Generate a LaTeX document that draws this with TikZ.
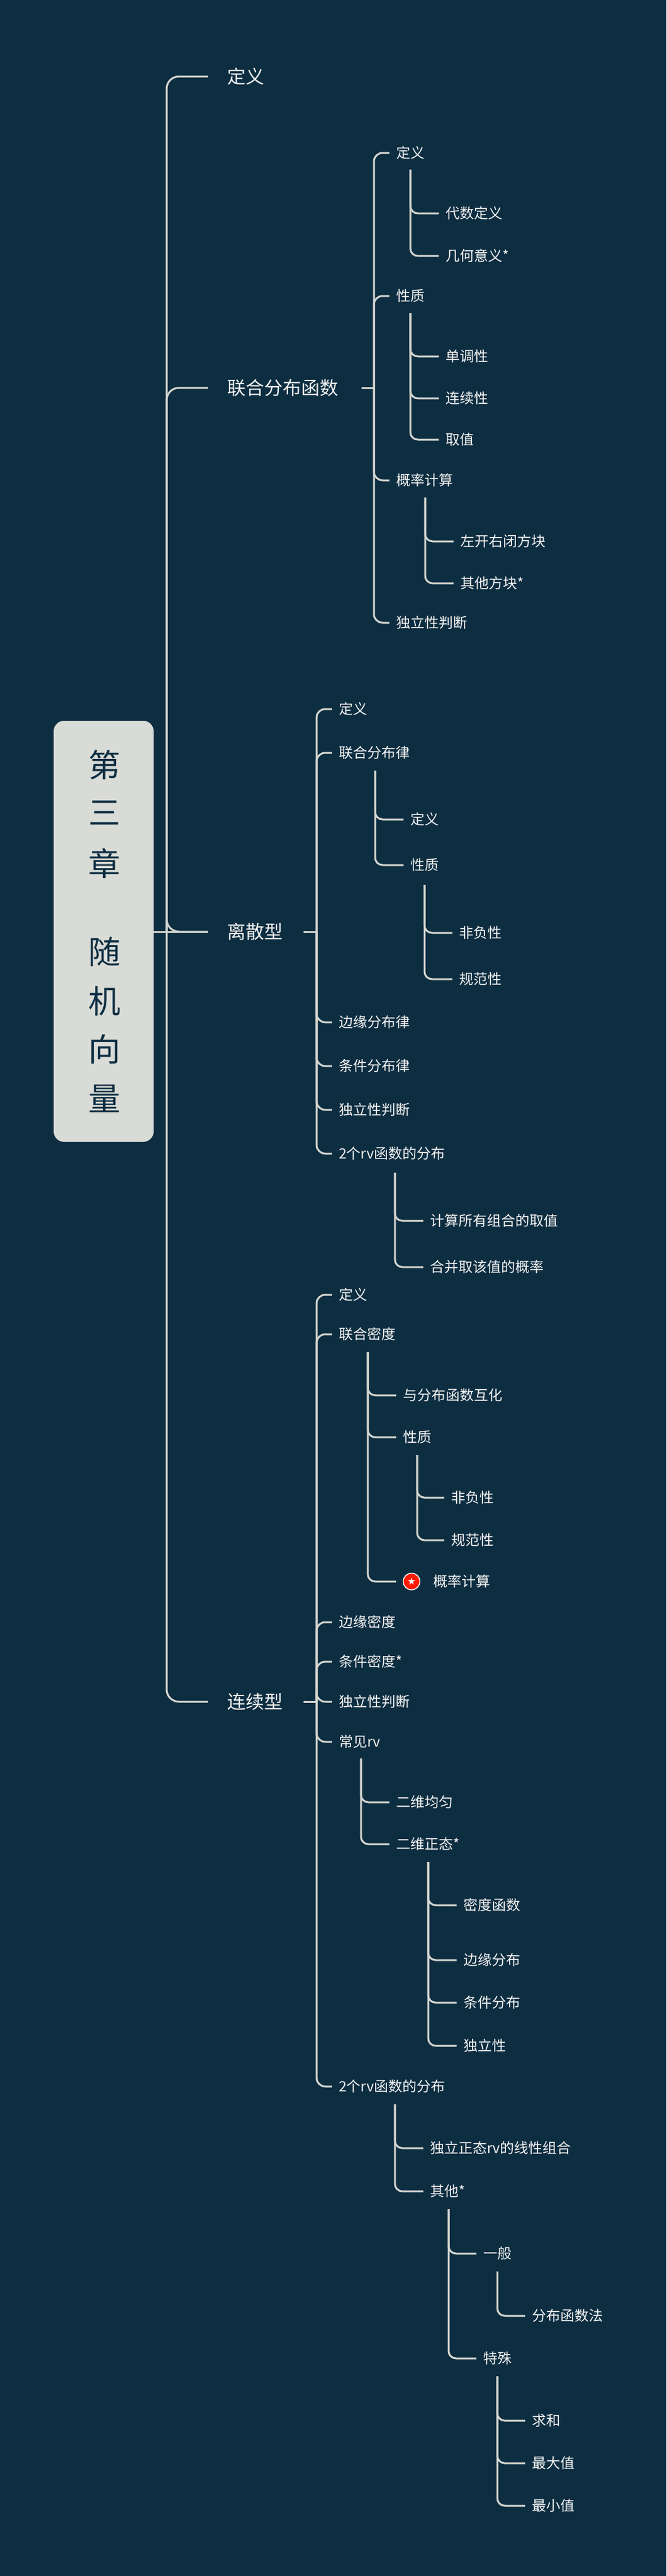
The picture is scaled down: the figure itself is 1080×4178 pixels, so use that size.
\documentclass[tikz,border=0pt]{standalone}
\usepackage{fontspec}
\setmainfont{Noto Sans CJK SC}
\newfontfamily\djv{DejaVu Sans}
\newcommand\rvt{rv}
\definecolor{bg}{HTML}{0D2D41}
\definecolor{ln}{HTML}{D5D6D0}
\definecolor{tx}{HTML}{F4F4F2}
\definecolor{boxc}{HTML}{D9DBD6}
\newcommand\hk[4]{\draw[lnk,rounded corners=#4] (#1,#2) |- ([xshift=-11]#3.west);}
\begin{document}
\begin{tikzpicture}[x=1pt,y=-1pt,
  lnk/.style={draw=ln,line width=3pt},
  t1/.style={anchor=west,inner sep=0,text=tx,font=\fontsize{30}{32}\selectfont},
  t2/.style={anchor=west,inner sep=0,text=tx,font=\fontsize{23}{25}\selectfont}]
\fill[bg] (0,0) rectangle (1080,4178);
\useasboundingbox (0,0) rectangle (1080,4178);
% root box
\node[fill=boxc,rounded corners=17,minimum width=162,minimum height=683,inner sep=0] (root) at (168,1510.5) {};
\foreach \c/\yy in {第/1241,三/1318,章/1400,随/1544,机/1624,向/1702,量/1782}
  {\node[text=bg,font=\fontsize{52}{54}\selectfont,inner sep=0] (r\yy) at (169,\yy) {\c};}
% level 1
\node[t1] (a1) at (368,124) {定义};
\node[t1] (a2) at (368,629) {联合分布函数};
\node[t1] (a3) at (368,1511) {离散型};
\node[t1] (a4) at (368,2760) {连续型};
\draw[lnk] (root.east|-a3.west) -- ([xshift=-31]a3.west);
\foreach \n in {a1,a2,a3,a4} {\draw[lnk,rounded corners=20] (270,1511) |- ([xshift=-31]\n.west);}
% ===== 联合分布函数
\draw[lnk] (586,629) -- (606,629);
\node[t2] (b1) at (642,248) {定义};
\node[t2] (b2) at (642,480) {性质};
\node[t2] (b3) at (642,779) {概率计算};
\node[t2] (b4) at (642,1010) {独立性判断};
\foreach \n in {b1,b2,b3,b4} {\hk{606}{629}{\n}{14}}
\node[t2] (b11) at (722,346) {代数定义};
\node[t2] (b12) at (722,415) {几何意义*};
\hk{665}{275}{b11}{12} \hk{665}{275}{b12}{12}
\node[t2] (b21) at (722,578) {单调性};
\node[t2] (b22) at (722,646) {连续性};
\node[t2] (b23) at (722,713) {取值};
\foreach \n in {b21,b22,b23} {\hk{665}{508}{\n}{12}}
\node[t2] (b31) at (746,878) {左开右闭方块};
\node[t2] (b32) at (746,946) {其他方块*};
\hk{689}{807}{b31}{12} \hk{689}{807}{b32}{12}
% ===== 离散型
\draw[lnk] (492,1511) -- (513,1511);
\node[t2] (c1) at (549,1150) {定义};
\node[t2] (c2) at (549,1221) {联合分布律};
\node[t2] (c3) at (549,1658) {边缘分布律};
\node[t2] (c4) at (549,1729) {条件分布律};
\node[t2] (c5) at (549,1800) {独立性判断};
\node[t2] (c6) at (549,1871) {2个\rvt 函数的分布};
\foreach \n in {c1,c2,c3,c4,c5,c6} {\hk{513}{1511}{\n}{14}}
\node[t2] (c21) at (665,1329) {定义};
\node[t2] (c22) at (665,1403) {性质};
\hk{608}{1250}{c21}{12} \hk{608}{1250}{c22}{12}
\node[t2] (c221) at (744,1513) {非负性};
\node[t2] (c222) at (744,1588) {规范性};
\hk{688}{1435}{c221}{12} \hk{688}{1435}{c222}{12}
\node[t2] (c61) at (697,1980) {计算所有组合的取值};
\node[t2] (c62) at (697,2055) {合并取该值的概率};
\hk{640}{1902}{c61}{12} \hk{640}{1902}{c62}{12}
% ===== 连续型
\draw[lnk] (492,2760) -- (513,2760);
\node[t2] (d1) at (549,2100) {定义};
\node[t2] (d2) at (549,2164) {联合密度};
\node[t2] (d3) at (549,2631) {边缘密度};
\node[t2] (d4) at (549,2695) {条件密度*};
\node[t2] (d5) at (549,2760) {独立性判断};
\node[t2] (d6) at (549,2825) {常见\rvt};
\node[t2] (d7) at (549,3384) {2个\rvt 函数的分布};
\foreach \n in {d1,d2,d3,d4,d5,d6,d7} {\hk{513}{2760}{\n}{14}}
\node[t2] (d21) at (653,2263) {与分布函数互化};
\node[t2] (d22) at (653,2331) {性质};
\node[circle,fill=red!80!orange,draw=white,line width=1.5pt,minimum size=27,inner sep=0,text=white,font=\djv\fontsize{16}{16}\selectfont] (star) at (667,2565) {★};
\node[t2] (d23) at (702,2565) {概率计算};
\hk{596}{2193}{d21}{12} \hk{596}{2193}{d22}{12}
\draw[lnk,rounded corners=12] (596,2193) |- ([xshift=-11]star.west);
\node[t2] (d221) at (731,2429) {非负性};
\node[t2] (d222) at (731,2498) {规范性};
\hk{676}{2360}{d221}{12} \hk{676}{2360}{d222}{12}
\node[t2] (d61) at (642,2923) {二维均匀};
\node[t2] (d62) at (642,2991) {二维正态*};
\hk{585}{2852}{d61}{12} \hk{585}{2852}{d62}{12}
\node[t2] (d621) at (751,3090) {密度函数};
\node[t2] (d622) at (751,3179) {边缘分布};
\node[t2] (d623) at (751,3248) {条件分布};
\node[t2] (d624) at (751,3318) {独立性};
\foreach \n in {d621,d622,d623,d624} {\hk{694}{3020}{\n}{12}}
\node[t2] (d71) at (697,3484) {独立正态\rvt 的线性组合};
\node[t2] (d72) at (697,3554) {其他*};
\hk{640}{3413}{d71}{12} \hk{640}{3413}{d72}{12}
\node[t2] (d721) at (783,3655) {一般};
\node[t2] (d722) at (783,3825) {特殊};
\hk{727}{3583}{d721}{12} \hk{727}{3583}{d722}{12}
\node[t2] (d7211) at (862,3756) {分布函数法};
\hk{806}{3684}{d7211}{12}
\node[t2] (d7221) at (862,3926) {求和};
\node[t2] (d7222) at (862,3995) {最大值};
\node[t2] (d7223) at (862,4064) {最小值};
\foreach \n in {d7221,d7222,d7223} {\hk{806}{3854}{\n}{12}}
\end{tikzpicture}
\end{document}
